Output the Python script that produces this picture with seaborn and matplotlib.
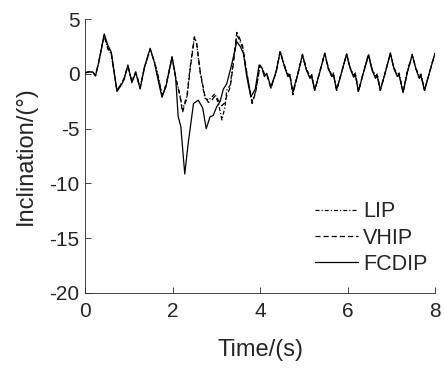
import matplotlib
matplotlib.use("Agg")
import matplotlib.pyplot as plt
import seaborn as sns
import pandas as pd

# ---- data ----
t_fcdip = [0, 0.1, 0.18, 0.24, 0.31, 0.44, 0.52, 0.6, 0.73, 0.83, 0.89, 0.98, 1.07, 1.16, 1.26,
           1.36, 1.49, 1.59, 1.67, 1.76, 1.85, 1.99, 2.07, 2.13, 2.19, 2.28, 2.36, 2.48, 2.59, 2.69,
           2.77, 2.86, 2.93, 3.01, 3.09, 3.16, 3.24, 3.36, 3.47, 3.55, 3.62, 3.7, 3.79, 3.89, 3.98,
           4.05, 4.1, 4.15, 4.25, 4.37, 4.46, 4.56, 4.64, 4.68, 4.75, 4.87, 4.97, 5.06, 5.14, 5.18,
           5.25, 5.37, 5.48, 5.56, 5.64, 5.68, 5.75, 5.87, 5.98, 6.06, 6.14, 6.18, 6.25, 6.37, 6.48,
           6.56, 6.64, 6.68, 6.75, 6.87, 6.98, 7.06, 7.14, 7.18, 7.27, 7.37, 7.48, 7.56, 7.64, 7.68,
           7.76, 7.88, 8.0]
v_fcdip = [0.12, 0.2, 0.18, -0.18, 1.0, 3.66, 2.65, 2.0, -1.6, -1.0, -0.55, 0.82, -0.8, 0.12, -1.37,
           0.67, 2.35, 1.0, -0.55, -2.13, -1.16, 1.6, -0.24, -3.9, -4.8, -9.15, -6.3, -2.7, -2.4, -3.1,
           -5.0, -3.9, -3.8, -3.0, -2.5, -1.4, -0.9, 1.0, 2.96, 2.5, 1.9, -0.3, -2.1, -1.4, 0.82,
           0.5, -0.24, 0.06, -1.16, 0.2, 2.04, 0.67, -0.24, -0.1, -1.6, 0.06, 1.74, 0.37, -0.4, -0.24,
           -1.46, 0.2, 1.9, 0.52, -0.24, -0.1, -1.46, 0.2, 1.83, 0.52, -0.3, -0.1, -1.6, 0.2, 1.74,
           0.37, -0.4, -0.2, -1.46, 0.2, 1.9, 0.52, -0.24, -0.1, -1.7, 0.2, 1.74, 0.52, -0.4, -0.2,
           -1.5, 0.2, 1.9]

t_lip = [0, 0.1, 0.18, 0.24, 0.31, 0.44, 0.52, 0.6, 0.73, 0.83, 0.89, 0.98, 1.07, 1.16, 1.26,
         1.36, 1.49, 1.59, 1.67, 1.76, 1.85, 1.99, 2.07, 2.17, 2.23, 2.28, 2.33, 2.4, 2.5, 2.55,
         2.63, 2.74, 2.82, 2.9, 2.97, 3.05, 3.13, 3.2, 3.24, 3.32, 3.4, 3.47, 3.52, 3.6, 3.7,
         3.82, 3.9, 4.0, 4.05, 4.1, 4.15, 4.25, 4.37, 4.46, 4.56, 4.64, 4.68, 4.75, 4.87, 4.97,
         5.06, 5.14, 5.18, 5.25, 5.37, 5.48, 5.56, 5.64, 5.68, 5.75, 5.87, 5.98, 6.06, 6.14, 6.18,
         6.25, 6.37, 6.48, 6.56, 6.64, 6.68, 6.75, 6.87, 6.98, 7.06, 7.14, 7.18, 7.27, 7.37, 7.48,
         7.56, 7.64, 7.68, 7.76, 7.88, 8.0]
v_lip = [0.1, 0.2, 0.15, -0.15, 1.0, 3.5, 2.3, 1.8, -1.5, -0.9, -0.4, 0.7, -0.6, 0.2, -1.2,
         0.6, 2.2, 1.1, -0.1, -1.9, -1.0, 1.5, -0.3, -1.9, -3.3, -2.6, -2.0, 0.5, 3.4, 2.8,
         0.2, -2.2, -2.4, -2.1, -1.8, -2.7, -4.2, -3.0, -1.5, -1.0, 1.5, 3.6, 3.2, 2.4, 0.0,
         -2.5, -1.6, 0.8, 0.6, 0.0, 0.1, -1.3, 0.3, 2.1, 0.8, -0.1, 0.1, -1.8, 0.1, 1.8,
         0.5, -0.2, 0.0, -1.5, 0.3, 1.9, 0.6, -0.1, 0.1, -1.5, 0.3, 1.8, 0.6, -0.1, 0.1,
         -1.6, 0.3, 1.8, 0.5, -0.2, 0.0, -1.5, 0.3, 1.9, 0.6, -0.1, 0.1, -1.6, 0.3, 1.8,
         0.6, -0.2, 0.0, -1.5, 0.3, 1.9]

t_vhip = list(t_lip)
v_vhip = [0.1, 0.2, 0.15, -0.15, 1.0, 3.55, 2.4, 1.9, -1.5, -0.9, -0.5, 0.75, -0.7, 0.15, -1.3,
          0.6, 2.3, 1.0, -0.3, -2.0, -1.1, 1.5, -0.3, -2.0, -3.5, -2.8, -2.2, 0.3, 3.3, 2.9,
          0.3, -2.0, -2.6, -2.4, -2.0, -2.4, -2.9, -2.6, -2.0, -1.2, 1.2, 3.8, 3.4, 2.6, 0.1,
          -2.7, -1.7, 0.8, 0.5, -0.1, 0.0, -1.3, 0.2, 2.0, 0.7, -0.2, 0.0, -1.9, 0.1, 1.7,
          0.4, -0.3, -0.1, -1.5, 0.2, 1.9, 0.5, -0.2, 0.0, -1.5, 0.2, 1.8, 0.5, -0.2, 0.0,
          -1.6, 0.2, 1.7, 0.4, -0.3, -0.1, -1.5, 0.2, 1.9, 0.5, -0.2, 0.0, -1.7, 0.2, 1.7,
          0.5, -0.3, -0.1, -1.5, 0.2, 1.9]

series_names = ["LIP", "VHIP", "FCDIP"]
x_ticks = [0, 2, 4, 6, 8]
y_ticks = [5, 0, -5, -10, -15, -20]

# ---- plotting ----
sns.set_theme(style="white")
plt.rcParams["font.family"] = ["Liberation Sans", "DejaVu Sans"]

fig = plt.figure(figsize=(4.44, 3.71), dpi=100)
ax = fig.add_axes([85 / 444, 1 - 292.7 / 371, 350 / 444, 273.4 / 371])

styles = {
    "LIP": (0, (3.2, 1.6, 1.0, 1.6)),
    "VHIP": (0, (4.0, 2.5)),
    "FCDIP": "-",
}
data = {
    "LIP": (t_lip, v_lip),
    "VHIP": (t_vhip, v_vhip),
    "FCDIP": (t_fcdip, v_fcdip),
}
for name in series_names:
    tt, vv = data[name]
    df = pd.DataFrame({"t": tt, "v": vv})
    sns.lineplot(data=df, x="t", y="v", ax=ax, color="black", linewidth=0.9,
                 linestyle=styles[name], label=name, sort=False, estimator=None)

ax.set_xlim(0, 8)
ax.set_ylim(-20, 5)
ax.set_xticks(x_ticks)
ax.set_yticks(y_ticks)
ax.set_xticklabels([str(v) for v in x_ticks])
ax.set_yticklabels([str(v) for v in y_ticks])

for s in ["top", "right"]:
    ax.spines[s].set_visible(False)
for s in ["left", "bottom"]:
    ax.spines[s].set_color("#262626")
    ax.spines[s].set_linewidth(0.6)

ax.tick_params(axis="both", direction="in", length=4, width=0.6, colors="#262626",
               labelsize=15, left=True, bottom=True)
ax.tick_params(axis="x", pad=7)
ax.tick_params(axis="y", pad=4)
ax.set_xlabel("Time/(s)", fontsize=17, color="#262626", labelpad=13)
ax.set_ylabel("Inclination/(°)", fontsize=17, color="#262626", labelpad=9)

leg = ax.legend(loc="center left", bbox_to_anchor=(306 / 444, 1 - 238 / 371),
                bbox_transform=fig.transFigure, frameon=False, fontsize=15.5,
                handlelength=2.0, handletextpad=0.25, labelspacing=0.25, borderaxespad=0)
for txt in leg.get_texts():
    txt.set_color("#262626")

fig.savefig("out.png", dpi=100)
